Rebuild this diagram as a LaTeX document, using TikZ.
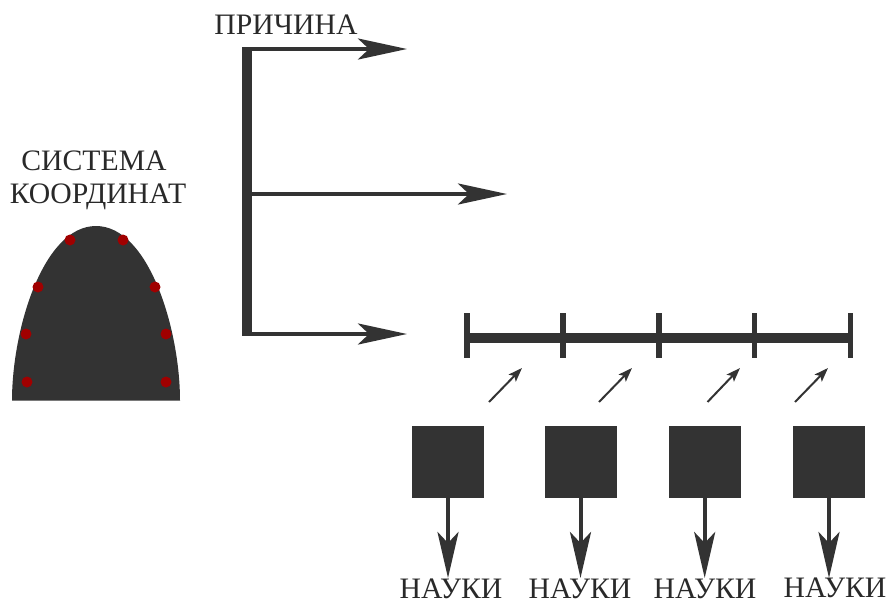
\documentclass[tikz,border=0pt]{standalone}
\usepackage{fontspec}
\setmainfont{Liberation Serif}
\usetikzlibrary{arrows.meta}
\definecolor{ink}{HTML}{333333}
\definecolor{dotred}{HTML}{A00000}
\tikzset{
  lab/.style={anchor=base,inner sep=0pt,text=ink!80!black,font=\fontsize{29.7}{30}\selectfont},
  sq/.style={fill=ink,minimum size=72pt,inner sep=0pt,draw=none},
  pt/.style={circle,fill=dotred,minimum size=11pt,inner sep=0pt,draw=none},
  bigarrow/.style={draw=ink,line width=4pt,-{Stealth[length=49pt,width=21pt,inset=11pt,fill=ink]}},
  downarrow/.style={draw=ink,line width=4pt,-{Stealth[length=46pt,width=21pt,inset=11pt,fill=ink]}},
  smallarrow/.style={draw=ink,line width=2pt,-{Stealth[length=14pt,width=10pt,inset=3pt,fill=ink]}},
  spine/.style={draw=ink,line width=10pt},
  barline/.style={draw=ink,line width=10pt},
  tick/.style={draw=ink,line width=5.5pt},
}
\begin{document}
\begin{tikzpicture}[x=1pt,y=-1pt]
\useasboundingbox (0,0) rectangle (886,600);
% dome
\fill[ink] (12,400.5) .. controls (12,330) and (43,226) .. (96,226) .. controls (149,226) and (180,330) .. (180,400.5) -- cycle;
\foreach \n/\x/\y in {a/70/240,b/123/240,c/38/287,d/155/287,e/26/334,f/166/334,g/27/382,h/166/382}
  \node[pt] (dot\n) at (\x,\y) {};
% labels
\node[lab] (sys) at (94,170) {СИСТЕМА};
\node[lab] (koord) at (98,203) {КООРДИНАТ};
\node[lab] (prich) at (286,34) {ПРИЧИНА};
% spine and arrows
\coordinate (s0) at (247,47);
\coordinate (s1) at (247,49);
\coordinate (s2) at (247,194);
\coordinate (s3) at (247,334);
\coordinate (s4) at (247,336);
\coordinate (t1) at (407,49);
\coordinate (t2) at (507,194);
\coordinate (t3) at (407,334);
\draw[spine] (s0) -- (s4);
\draw[bigarrow] (s1) -- (t1);
\draw[bigarrow] (s2) -- (t2);
\draw[bigarrow] (s3) -- (t3);
% scale
\coordinate (b0) at (467,338);
\coordinate (b4) at (850.5,338);
\draw[barline] (b0) -- (b4);
\foreach \n/\x in {0/467,1/563,2/659,3/754.5,4/850.5}{
  \coordinate (tt\n) at (\x,313);
  \coordinate (tb\n) at (\x,358);
  \draw[tick] (tt\n) -- (tb\n);
}
% small arrows
\foreach \n/\x/\y in {1/489/522,2/599/632,3/707.5/740,4/795/828}{
  \coordinate (sa\n) at (\x,402);
  \coordinate (sb\n) at (\y,368);
  \draw[smallarrow] (sa\n) -- (sb\n);
}
% squares, arrows, labels
\foreach \n/\x/\lx/\ly in {1/448/451/598.5,2/580.5/580/598.5,3/704.7/705/598.5,4/829/835/597}{
  \node[sq] (box\n) at (\x,462) {};
  \node[lab] (sci\n) at (\lx,\ly) {НАУКИ};
  \coordinate (end\n) at (\x,578);
  \draw[downarrow] (box\n.south) -- (end\n);
}
\end{tikzpicture}
\end{document}
